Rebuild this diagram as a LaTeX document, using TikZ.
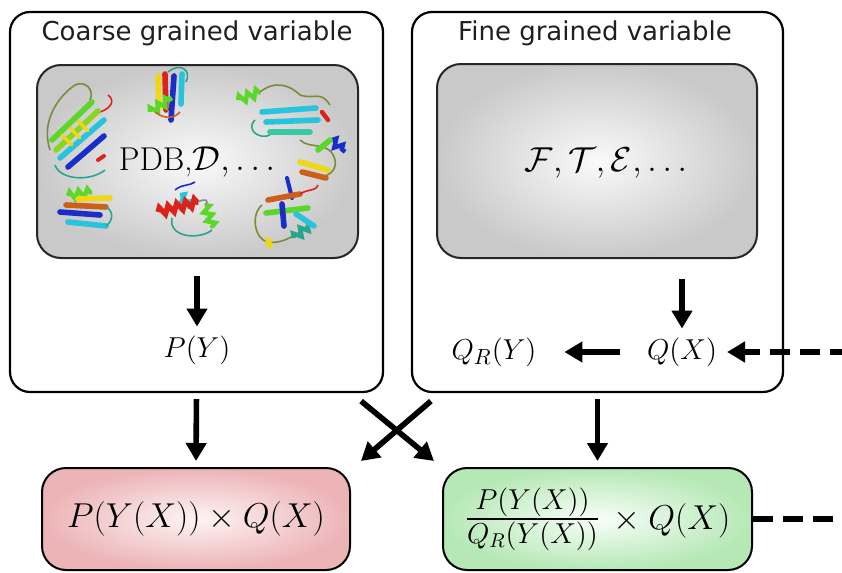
\documentclass[tikz,border=0pt]{standalone}
\usepackage{amsmath}
\usepackage{fontspec}
\newfontfamily\titlefont{DejaVu Sans}
\usetikzlibrary{arrows.meta,calc,decorations.pathmorphing}
\definecolor{redout}{RGB}{236,180,183}
\definecolor{redin}{RGB}{254,244,244}
\definecolor{grnout}{RGB}{182,232,182}
\definecolor{grnin}{RGB}{248,254,248}
\definecolor{pgreen}{RGB}{90,215,40}
\definecolor{pcyan}{RGB}{40,195,220}
\definecolor{pblue}{RGB}{25,45,200}
\definecolor{pyellow}{RGB}{240,215,20}
\definecolor{pred}{RGB}{220,35,25}
\definecolor{porange}{RGB}{205,95,25}
\definecolor{polive}{RGB}{120,140,60}
\definecolor{pteal}{RGB}{40,165,140}
\definecolor{pgrey}{RGB}{140,140,140}
\begin{document}
\begin{tikzpicture}[x=0.5pt,y=-0.5pt,
  outerbox/.style={draw=black, line width=1.1pt, rounded corners=10pt, fill=white, inner sep=0pt},
  greybox/.style={draw=black!85, line width=1pt, rounded corners=12pt, inner color=black!2, outer color=black!21, inner sep=0pt},
  redbox/.style={draw=black, line width=1pt, rounded corners=12pt, inner color=redin, outer color=redout, inner sep=0pt},
  grnbox/.style={draw=black, line width=1pt, rounded corners=12pt, inner color=grnin, outer color=grnout, inner sep=0pt},
  titletext/.style={font=\titlefont\fontsize{13}{15}\selectfont, text=black!88},
  mtext/.style={font=\fontsize{15}{18}\selectfont, text=black},
  bigarrow/.style={line width=2.8pt, -{Triangle[length=9pt,width=10pt]}},
  dasharrow/.style={line width=2.6pt, dash pattern=on 10pt off 5pt, -{Triangle[length=9pt,width=10pt]}},
  dashline/.style={line width=2.6pt, dash pattern=on 10pt off 5pt},
  strand/.style={line width=2.8pt, line cap=round},
  loop/.style={line width=0.8pt},
  helix/.style={line width=2.2pt, decorate, decoration={zigzag, segment length=4.5pt, amplitude=2pt}}
]
\useasboundingbox (0,0) rectangle (842,573);

% outer boxes
\node[outerbox, minimum width=186.5pt, minimum height=190pt] (Louter) at (196.5,202) {};
\node[outerbox, minimum width=185.5pt, minimum height=190pt] (Router) at (597.5,202) {};
\node[titletext] (Ltitle) at (197,33) {Coarse grained variable};
\node[titletext] (Rtitle) at (595,33) {Fine grained variable};

% inner grey boxes
\node[greybox, minimum width=160.5pt, minimum height=96.5pt] (Linner) at (197.5,161.5) {};
\node[greybox, minimum width=160pt, minimum height=97pt] (Rinner) at (597,161) {};

% proteins (stylised cartoons)
% protein 1
\draw[loop, polive] (50,150) .. controls (40,120) and (60,95) .. (75,85) .. controls (85,80) and (95,90) .. (90,100);
\draw[loop, pteal] (55,165) .. controls (60,180) and (90,182) .. (105,170);
\draw[loop, pred] (100,112) .. controls (112,108) and (115,100) .. (108,95);
\draw[strand, pgreen] (52,140) -- (92,102);
\draw[strand, pcyan] (60,158) -- (104,120);
\draw[strand, pgreen!70!pyellow] (56,150) -- (98,111);
\draw[strand, pblue] (68,167) -- (104,136);
\draw[strand, pyellow, line width=1.6pt] (62,135) -- (72,145) (70,128) -- (80,138) (78,121) -- (88,131);
\draw[strand, pred, line width=2pt] (98,160) -- (104,156);
% protein 2
\draw[loop, pteal] (168,72) .. controls (180,62) and (192,70) .. (186,82);
\draw[strand, pyellow] (158,76) -- (159,108);
\draw[strand, pred] (165,74) -- (166,110);
\draw[strand, pblue] (174,76) -- (171,120);
\draw[strand, pcyan] (182,74) -- (181,104);
\draw[helix, pgreen] (150,112) -- (172,98);
\draw[loop, porange] (155,112) .. controls (165,120) and (175,118) .. (180,112);
% protein 3
\draw[helix, pgreen] (238,100) -- (260,92);
\draw[loop, polive] (260,92) .. controls (275,80) and (290,85) .. (300,95) .. controls (315,100) and (320,90) .. (330,105);
\draw[loop, polive] (300,140) .. controls (310,150) and (330,140) .. (335,160) .. controls (338,175) and (320,180) .. (310,175);
\draw[loop, pteal] (255,120) .. controls (245,130) and (260,140) .. (270,135);
\draw[strand, pcyan] (262,112) -- (316,108);
\draw[strand, pcyan] (266,122) -- (318,120);
\draw[strand, pcyan!70!pgreen] (270,132) -- (310,132);
\draw[strand, pred, line width=2.2pt] (322,112) -- (328,120);
\draw[helix, pblue] (332,140) -- (345,152);
\draw[strand, pyellow] (300,162) -- (328,170);
\draw[strand, porange] (302,172) -- (326,178);
\draw[strand, pgreen] (318,150) -- (330,140);
% protein 4
\draw[helix, pgreen] (68,196) -- (92,192);
\draw[strand, pyellow] (78,199) -- (110,198);
\draw[strand, porange] (66,205) -- (106,207);
\draw[strand, pblue] (60,212) -- (100,215);
\draw[strand, pcyan] (68,222) -- (106,226);
\draw[loop, pteal] (106,207) .. controls (115,212) and (112,222) .. (106,226);
% protein 5
\draw[loop, pblue] (175,190) .. controls (182,184) and (190,186) .. (195,182);
\draw[helix, pcyan] (180,195) -- (190,208);
\draw[helix, pred, line width=2.6pt] (158,212) -- (198,202);
\draw[loop, pteal] (172,218) .. controls (168,238) and (200,240) .. (212,230);
\draw[helix, pgreen] (205,205) -- (213,228);
\draw[loop, pgrey] (198,202) .. controls (205,198) and (210,200) .. (205,205);
% protein 6
\draw[strand, pblue, line width=2pt] (287,178) -- (292,198);
\draw[loop, polive] (262,205) .. controls (250,215) and (255,240) .. (268,242) .. controls (280,244) and (290,238) .. (300,232);
\draw[strand, porange] (268,200) -- (300,194);
\draw[strand, pgreen] (266,213) -- (308,208);
\draw[strand, pblue] (282,204) -- (284,226);
\draw[strand, pcyan] (296,214) -- (314,226);
\draw[helix, pteal] (294,238) -- (308,226);
\draw[strand, pyellow] (268,240) -- (270,246);
\draw[loop, pred] (300,194) .. controls (310,188) and (315,192) .. (318,185);

% texts inside grey boxes
\node[font=\fontsize{16.5}{19}\selectfont, text=black] (PDB) at (197,162) {PDB,$\mathcal{D},\ldots$};
\node[font=\fontsize{16}{19}\selectfont, text=black] (FTE) at (606,163) {$\mathcal{F},\mathcal{T},\mathcal{E},\ldots$};

% quantities
\node[mtext] (PY) at (197,350) {$P(Y)$};
\node[mtext] (QX) at (682,352) {$Q(X)$};
\node[mtext] (QRY) at (494,352) {$Q_R(Y)$};

% bottom boxes
\node[redbox, minimum width=154pt, minimum height=51pt] (Red) at (196,519) {};
\node[grnbox, minimum width=154.5pt, minimum height=51pt] (Grn) at (597.5,519) {};
\node[font=\fontsize{17}{20}\selectfont, text=black] (Rtxt) at (Red) {$P(Y(X))\times Q(X)$};
\node[text=black, inner sep=0pt] (Gtxt) at (Grn) {{\fontsize{20}{24}\selectfont$\frac{P(Y(X))}{Q_R(Y(X))}$}{\fontsize{16.5}{19}\selectfont$\,{}\times Q(X)$}};

% arrows
\draw[bigarrow, shorten <=8.5pt, shorten >=1pt] (PY |- Linner.south) -- (PY);
\draw[bigarrow, shorten <=10pt, shorten >=1pt] (QX |- Rinner.south) -- (QX.north);
\draw[bigarrow, shorten <=10pt, shorten >=10.5pt] (QX.west) -- (QRY.east);
\coordinate (DashIn) at (850,352);
\draw[dasharrow, shorten >=1.5pt] (DashIn) -- (QX.east);
\coordinate (DashOut) at (850,519);
\draw[dashline] (Grn.east) -- (DashOut);

\draw[bigarrow, shorten <=3pt, shorten >=3pt] (Louter.south) -- (Red.north);
\draw[bigarrow, shorten <=3pt, shorten >=3pt] (Router.south) -- (Grn.north);
\draw[bigarrow] ($(Router.south west)+(20,8)$) -- ($(Red.north east)+(10,-6)$);
\draw[bigarrow] ($(Louter.south east)+(-23,8)$) -- ($(Grn.north west)+(-8,-6)$);
\end{tikzpicture}
\end{document}
